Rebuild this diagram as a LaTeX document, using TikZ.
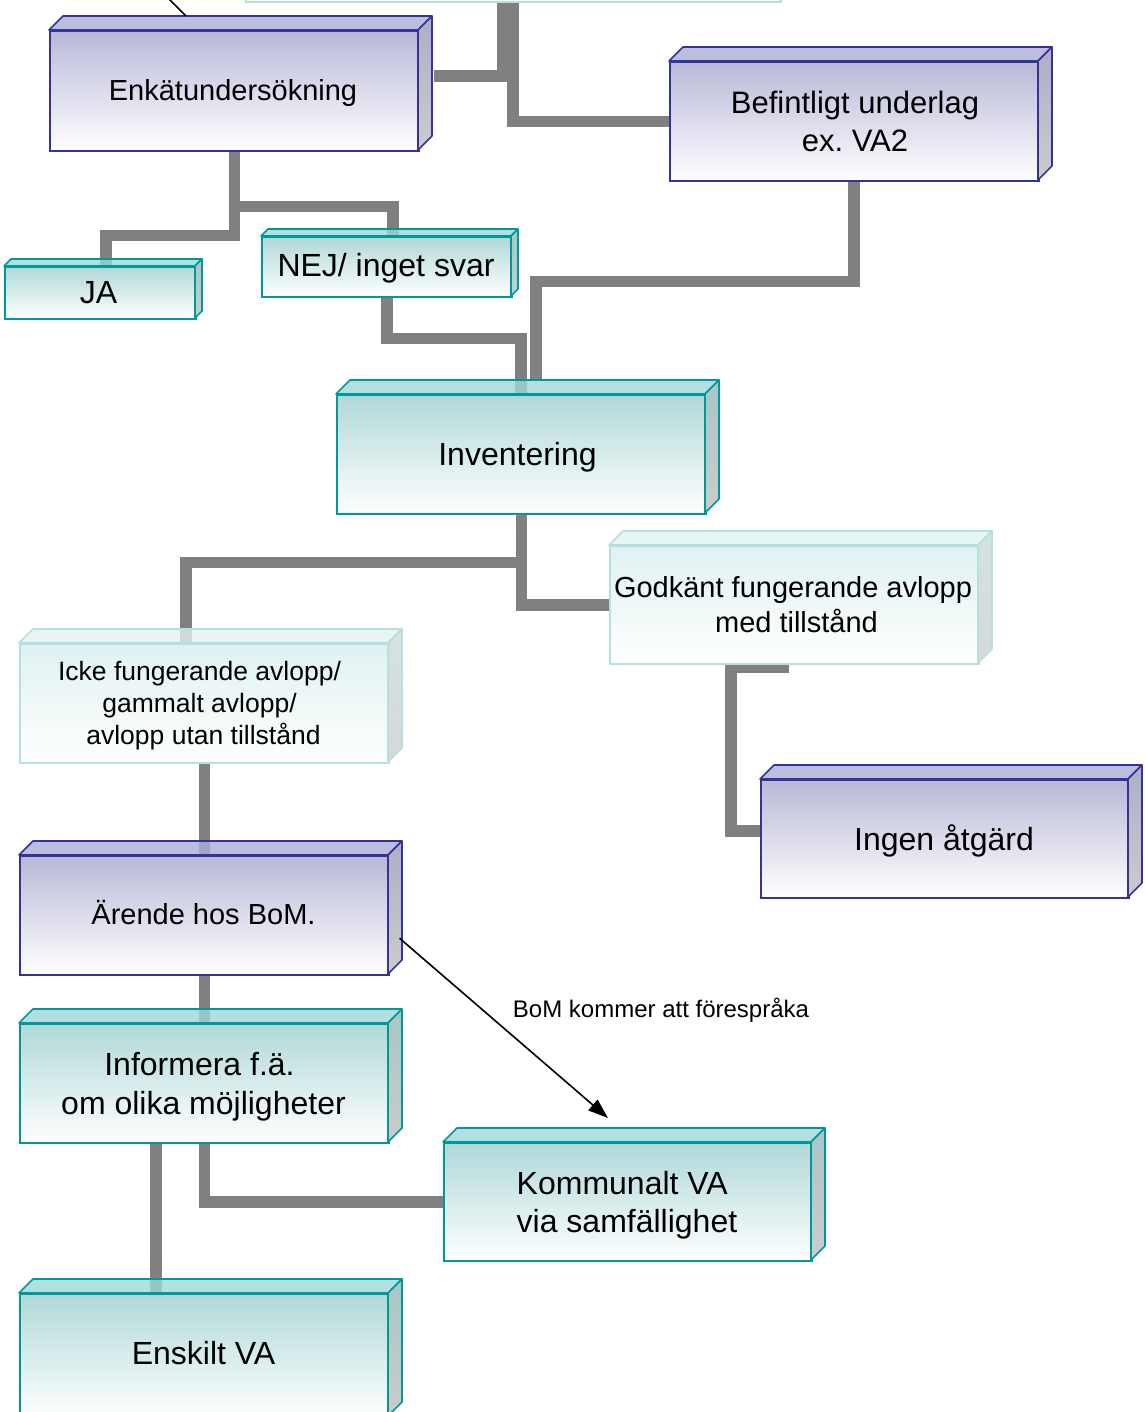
\documentclass[tikz,border=0pt]{standalone}
\usepackage{fontspec}
\setmainfont{Liberation Sans}
\usetikzlibrary{arrows.meta}
\frenchspacing
\definecolor{connGray}{HTML}{808080}
\definecolor{blueLine}{HTML}{333399}
\definecolor{blueTop}{HTML}{B8B8D8}
\definecolor{blueFace}{HTML}{ACACD7}
\definecolor{blueSide}{HTML}{ADADC8}
\definecolor{tealLine}{HTML}{009999}
\definecolor{tealTop}{HTML}{B0D8D8}
\definecolor{tealFace}{HTML}{9FD7D7}
\definecolor{tealSide}{HTML}{A8C6C6}
\definecolor{paleLine}{HTML}{B4E0E0}
\definecolor{paleTop}{HTML}{E0F1F1}
\definecolor{paleFace}{HTML}{E2F2F2}
\definecolor{paleSide}{HTML}{D4E2E2}
\definecolor{sideBottom}{HTML}{CCCCCC}
\definecolor{paleSideBottom}{HTML}{D8D8D8}
\pgfdeclarelayer{bg}
\pgfsetlayers{bg,main}
% #1 name, #2 x1, #3 y1, #4 x2, #5 y2, #6 depth, #7 theme
\newcommand\cubebox[7]{%
  \node[#7front, minimum width={(#4-#2)*1pt}, minimum height={(#5-#3)*1pt}, anchor=north west] (#1) at (#2,#3) {};
  \path[#7top] (#2,#3) -- ({#2+#6},{#3-#6}) -- ({#4+#6},{#3-#6}) -- (#4,#3) -- cycle;
  \path[#7side] (#4,#3) -- ({#4+#6},{#3-#6}) -- ({#4+#6},{#5-#6}) -- (#4,#5) -- cycle;
}
\begin{document}
\begin{tikzpicture}[x=1pt,y=-1pt,
  conn/.style={draw=connGray, line width=11.5pt, line join=miter},
  bluefront/.style={draw=blueLine, line width=1.6pt, top color=blueTop, bottom color=white, inner sep=0pt},
  bluetop/.style={fill=blueFace, fill opacity=0.8, draw=blueLine, line width=1.6pt, line join=round},
  blueside/.style={top color=blueSide, bottom color=sideBottom, draw=blueLine, line width=1.6pt, line join=round},
  tealfront/.style={draw=tealLine, line width=1.6pt, top color=tealTop, bottom color=white, inner sep=0pt},
  tealtop/.style={fill=tealFace, fill opacity=0.8, draw=tealLine, line width=1.6pt, line join=round},
  tealside/.style={top color=tealSide, bottom color=sideBottom, draw=tealLine, line width=1.6pt, line join=round},
  palefront/.style={draw=paleLine, line width=1.6pt, top color=paleTop, bottom color=white, inner sep=0pt},
  paletop/.style={fill=paleFace, fill opacity=0.8, draw=paleLine, line width=1.6pt, line join=round},
  paleside/.style={top color=paleSide, bottom color=paleSideBottom, draw=paleLine, line width=1.6pt, line join=round},
  boxtext/.style={align=center, inner sep=0pt, text=black},
  thinline/.style={draw=black, line width=1.6pt},
  arr/.style={draw=black, line width=1.6pt, -{Triangle[length=20pt,width=14pt]}},
]
\useasboundingbox (0,0) rectangle (1144,1412);
\clip (0,0) rectangle (1144,1412);

\cubebox{topbox}{245}{-119}{780}{1}{14}{pale}
\cubebox{enk}{49}{30}{418}{150}{14}{blue}
\cubebox{bef}{669}{61}{1038}{180}{14}{blue}
\cubebox{ja}{4}{266}{195}{318}{7}{teal}
\cubebox{nej}{261}{236}{511}{296}{7}{teal}
\cubebox{inv}{336}{394}{705}{513}{14}{teal}
\cubebox{god}{609}{545}{978}{663}{14}{pale}
\cubebox{icke}{19}{643}{388}{762}{14}{pale}
\cubebox{ingen}{760}{779}{1128}{897}{14}{blue}
\cubebox{are}{19}{855}{388}{974}{14}{blue}
\cubebox{inf}{19}{1023}{388}{1142}{14}{teal}
\cubebox{kom}{443}{1142}{811}{1260}{14}{teal}
\cubebox{ens}{19}{1293}{388}{1416}{14}{teal}

\node[boxtext, font=\fontsize{29}{35}\selectfont] (enk-t) at (233,93) {Enkätundersökning};
\node[boxtext, font=\fontsize{31}{38}\selectfont] (bef-t) at (855,121) {Befintligt underlag\\ex. VA2};
\node[boxtext, font=\fontsize{32}{38}\selectfont] (ja-t) at (98.5,293) {JA};
\node[boxtext, font=\fontsize{32}{38}\selectfont] (nej-t) at (386,268) {NEJ/ inget svar};
\node[boxtext, font=\fontsize{32}{38}\selectfont] (inv-t) at (517.5,457.5) {Inventering};
\node[boxtext, font=\fontsize{29}{35}\selectfont] (god-t) at (793,605) {Godkänt fungerande avlopp\\\hspace*{7pt}med tillstånd};
\node[boxtext, font=\fontsize{26.5}{32}\selectfont] (icke-t) at (199.5,705.5) {Icke fungerande avlopp/\\gammalt avlopp/\\\hspace*{8pt}avlopp utan tillstånd};
\node[boxtext, font=\fontsize{32}{38}\selectfont] (ingen-t) at (944,841) {Ingen åtgärd};
\node[boxtext, font=\fontsize{29}{35}\selectfont] (are-t) at (203.5,912.5) {Ärende hos BoM.};
\node[boxtext, font=\fontsize{32}{39}\selectfont] (inf-t) at (203.5,1086.5) {Informera f.ä.\hspace*{8pt}\\om olika möjligheter};
\node[boxtext, align=left, font=\fontsize{32}{38}\selectfont] (kom-t) at (627,1205) {Kommunalt VA\\via samfällighet};
\node[boxtext, font=\fontsize{32}{38}\selectfont] (ens-t) at (203.5,1353.5) {Enskilt VA};

\begin{pgfonlayer}{bg}
\draw[conn] ([xshift=258pt]topbox.south west) |- ([xshift=14pt,yshift=15pt]enk.east);
\draw[conn] ([xshift=268pt]topbox.south west) |- (bef.west);
\draw[conn] (enk.south) -- ++(0,84) -| ([xshift=102pt]ja.north west);
\draw[conn] (enk.south) -- ++(0,55) -| ([xshift=132pt]nej.north west);
\draw[conn] (nej.south) -- ++(0,41) -| ([xshift=185pt,yshift=-2pt]inv.north west);
\draw[conn] ([xshift=185pt]bef.south west) -- ++(0,100) -| ([xshift=200pt,yshift=13pt]inv.north west);
\draw[conn] (inv.south) -- ++(0,48) -| ([xshift=167pt]icke.north west);
\draw[conn] (inv.south) |- (god.west);
\draw[conn] ([xshift=180pt,yshift=-3pt]god.south west) -- ++(-58,0) |- ([yshift=8pt]ingen.west);
\draw[conn] (icke.south) -- (are.north);
\draw[conn] (are.south) -- (inf.north);
\draw[conn] (inf.south) |- (kom.west);
\draw[conn] ([xshift=137pt]inf.south west) -- ([xshift=137pt]ens.north west);
\end{pgfonlayer}

\coordinate (tl) at (166,-4);
\draw[thinline] (tl) -- ([xshift=137pt,yshift=14pt]enk.north west);
\draw[arr] ([xshift=10pt,yshift=-23pt]are.east) -- ([xshift=165pt,yshift=24pt]kom.north west);
\node[font=\fontsize{24}{29}\selectfont, inner sep=0pt] (lbl) at (661,1010) {BoM kommer att förespråka};
\end{tikzpicture}
\end{document}
